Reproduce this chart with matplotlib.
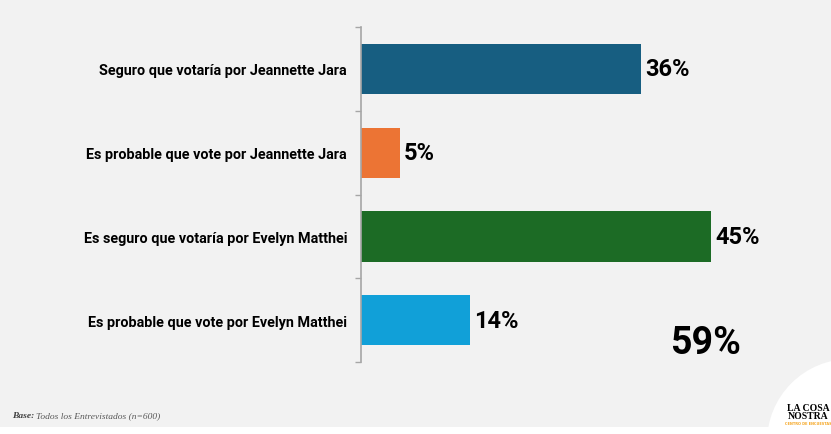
import matplotlib.pyplot as plt
from matplotlib.patches import Ellipse, Rectangle

categories = [
    "Seguro que votaría por Jeannette Jara",
    "Es probable que vote por Jeannette Jara",
    "Es seguro que votaría por Evelyn Matthei",
    "Es probable que vote por Evelyn Matthei",
]
values = [36, 5, 45, 14]
colors = ["#175e81", "#ec7434", "#1c6b25", "#11a0d8"]
total_label = "59%"
base_note = "Todos los Entrevistados (n=600)"

bg = "#f2f2f2"
fig = plt.figure(figsize=(8.31, 4.35), dpi=100)
fig.patch.set_facecolor(bg)

# white decorative circle and bottom strip (bottom-right logo area)
fig.add_artist(Ellipse((850 / 831, 1 - 443 / 435), 166 / 831, 166 / 435,
                       transform=fig.transFigure, facecolor="white", edgecolor="none", zorder=0))
fig.add_artist(Rectangle((0, 0), 1, 7 / 435, transform=fig.transFigure,
                         facecolor="white", edgecolor="none", zorder=0))

ax = fig.add_axes([361 / 831, 72 / 435, 436 / 831, 335 / 435])
ax.set_facecolor("none")

y = list(range(len(categories)))
bars = ax.barh(y, values, height=0.6, color=colors)
ax.set_ylim(3.5, -0.5)
ax.set_xlim(0, 56)

for b, v in zip(bars, values):
    ax.text(v + 0.5, b.get_y() + b.get_height() / 2, f"{v}%", va="center", ha="left",
            fontsize=17, fontweight="bold", family="Roboto", color="black")

ax.set_yticks(y)
ax.set_yticklabels(categories, fontsize=10.4, fontweight="bold", family="Roboto")
ax.tick_params(axis="y", which="major", length=0, pad=10)
ax.set_yticks([-0.5, 0.5, 1.5, 2.5, 3.5], minor=True)
ax.tick_params(axis="y", which="minor", length=4, color="#a6a6a6", width=1)
ax.set_xticks([])
for s in ["top", "right", "bottom"]:
    ax.spines[s].set_visible(False)
ax.spines["left"].set_color("#a6a6a6")
ax.spines["left"].set_linewidth(1.2)

fig.text(706 / 831, 1 - 344 / 435, total_label, ha="center", va="center",
         fontsize=27, fontweight="bold", family="Roboto")

fig.text(12 / 831, 1 - 416 / 435, "Base:", fontsize=6.8, fontweight="bold", style="italic",
         family="Liberation Serif", color="#404040", va="center")
fig.text(36 / 831, 1 - 416 / 435, base_note, fontsize=6.8, style="italic",
         family="Liberation Serif", color="#595959", va="center")

fig.text(808 / 831, 1 - 409 / 435, "LA COSA", fontsize=7, fontweight="bold",
         family="Liberation Serif", ha="center", va="center")
fig.text(808 / 831, 1 - 417 / 435, "NOSTRA", fontsize=7, fontweight="bold",
         family="Liberation Serif", ha="center", va="center")
fig.text(808 / 831, 1 - 424 / 435, "CENTRO DE ENCUESTAS", fontsize=2.5, fontweight="bold",
         color="#f5a623", ha="center", va="center")

fig.savefig("out.png", dpi=100, facecolor=bg)
